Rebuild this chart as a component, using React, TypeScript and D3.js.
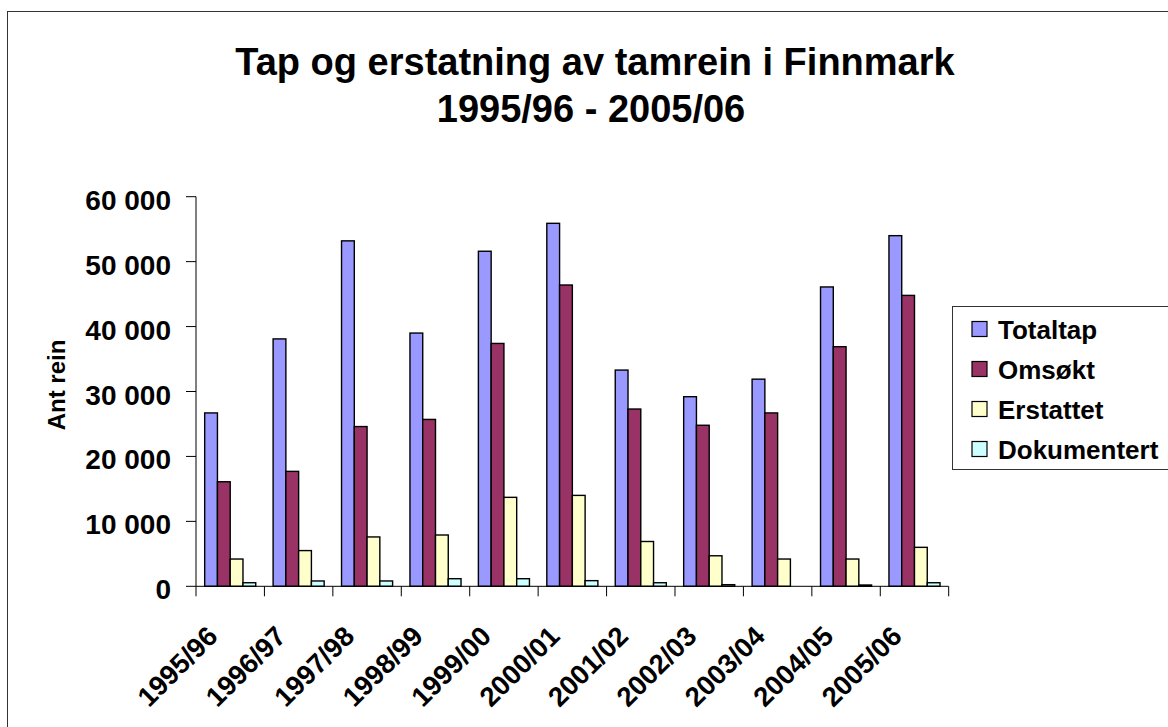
import * as d3 from "d3";

const seasons = [
  "1995/96", "1996/97", "1997/98", "1998/99", "1999/00", "2000/01",
  "2001/02", "2002/03", "2003/04", "2004/05", "2005/06",
];
const seriesNames = ["Totaltap", "Omsøkt", "Erstattet", "Dokumentert"];
const totaltap = [26700, 38100, 53200, 39000, 51600, 55900, 33300, 29200, 31900, 46100, 54000];
const omsokt = [16100, 17700, 24600, 25700, 37400, 46400, 27300, 24800, 26700, 36900, 44800];
const erstattet = [4200, 5500, 7600, 7900, 13700, 14000, 6900, 4700, 4200, 4200, 6000];
const dokumentert = [550, 820, 820, 1170, 1170, 870, 550, 250, 0, 200, 550];
const yTicks = [0, 10000, 20000, 30000, 40000, 50000, 60000];

const colors = ["#9999FF", "#993366", "#FFFFCC", "#CCFFFF"];
const FONT = "'Liberation Sans', Arial, sans-serif";

const W = 1168;
const H = 727;
const plot = { left: 196, right: 948.7, top: 196.7, bottom: 586.3 };

export default function App() {
  const values = [totaltap, omsokt, erstattet, dokumentert];

  const x0 = d3.scaleBand<string>().domain(seasons).range([plot.left, plot.right]).padding(0);
  const x1 = d3
    .scaleBand<string>()
    .domain(seriesNames)
    .range([0, x0.bandwidth()])
    .paddingInner(0)
    .paddingOuter(0.68);
  const y = d3.scaleLinear().domain([0, 60000]).range([plot.bottom, plot.top]);

  const fmt = (v: number) => d3.format(",")(v).replace(/,/g, " ");
  const boundaries = seasons.map((s) => x0(s)!).concat([plot.right]);

  return (
    <svg
      width={W}
      height={H}
      style={{ position: "absolute", left: 0, top: 0, background: "#fff" }}
      fontFamily={FONT}
      fontWeight="bold"
    >
      {/* chart border */}
      <rect x={7.5} y={11.5} width={1300} height={900} fill="#fff" stroke="#333" strokeWidth={1} />

      {/* title */}
      <text x={595} y={75} textAnchor="middle" fontSize={38}>
        Tap og erstatning av tamrein i Finnmark
      </text>
      <text x={591} y={121.5} textAnchor="middle" fontSize={38}>
        1995/96 - 2005/06
      </text>

      {/* bars */}
      {seasons.map((s, i) => (
        <g key={s} transform={`translate(${x0(s)},0)`}>
          {seriesNames.map((n, k) => {
            const v = values[k][i];
            if (v <= 0) return null;
            return (
              <rect
                key={n}
                x={x1(n)!}
                y={y(v)}
                width={x1.bandwidth()}
                height={y(0) - y(v)}
                fill={colors[k]}
                stroke="#000"
                strokeWidth={1.4}
              />
            );
          })}
        </g>
      ))}

      {/* y axis */}
      <line x1={plot.left} x2={plot.left} y1={plot.top} y2={plot.bottom} stroke="#000" />
      {yTicks.map((t) => (
        <g key={t}>
          <line x1={plot.left - 10} x2={plot.left} y1={y(t)} y2={y(t)} stroke="#000" />
          <text x={171} y={y(t) + 13} textAnchor="end" fontSize={28}>
            {fmt(t)}
          </text>
        </g>
      ))}
      <text transform={`translate(65,385) rotate(-90)`} textAnchor="middle" fontSize={24}>
        Ant rein
      </text>

      {/* x axis */}
      <line x1={plot.left} x2={plot.right} y1={plot.bottom} y2={plot.bottom} stroke="#000" />
      {boundaries.map((bx, i) => (
        <line key={i} x1={bx} x2={bx} y1={plot.bottom} y2={plot.bottom + 10} stroke="#000" />
      ))}
      {seasons.map((s) => (
        <text
          key={s}
          transform={`translate(${x0(s)! + x0.bandwidth() / 2 - 11},638) rotate(-45)`}
          textAnchor="end"
          fontSize={27.5}
        >
          {s}
        </text>
      ))}

      {/* legend */}
      <rect x={952.5} y={306.5} width={300} height={163} fill="#fff" stroke="#333" strokeWidth={1} />
      {seriesNames.map((n, k) => {
        const cy = 329 + k * 40;
        return (
          <g key={n}>
            <rect x={972} y={cy - 7.5} width={15} height={15} fill={colors[k]} stroke="#000" strokeWidth={1.2} />
            <text x={998} y={cy + 9.5} fontSize={26}>
              {n}
            </text>
          </g>
        );
      })}
    </svg>
  );
}
